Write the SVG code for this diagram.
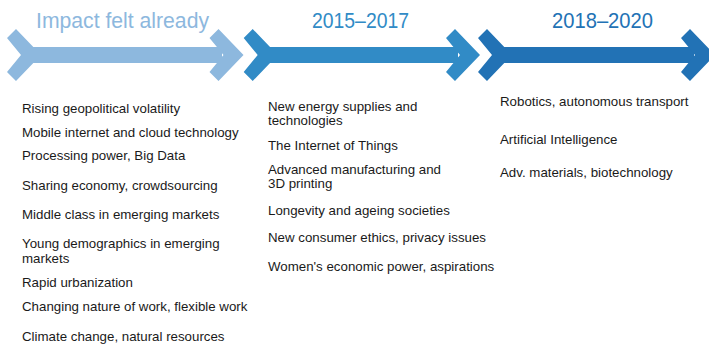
<svg xmlns="http://www.w3.org/2000/svg" width="709" height="347" viewBox="0 0 709 347">
<defs>
<style>
.title{font-family:"Liberation Sans",Arial,sans-serif;font-size:22px}
.item{font-family:"Liberation Sans",Arial,sans-serif;font-size:13.3px;fill:#1a1a1a}
.s1{fill:#8db8de}
.s2{fill:#318bc6}
.s3{fill:#2272b5}
</style>
<path id="chev" d="M0,29 L25,55 L0,81 L-9,72 L5,55 L-9,38 Z"/>
</defs>
<rect width="709" height="347" fill="#ffffff"/>
<g id="stage-impact">
<text class="title s1" x="36" y="28.3" textLength="173" lengthAdjust="spacingAndGlyphs">Impact felt already</text>
<g class="s1">
<use href="#chev" x="16"/>
<rect x="22" y="47" width="200" height="16"/>
<use href="#chev" x="218.5"/>
</g>
<g class="item">
<text x="22" y="113">Rising geopolitical volatility</text>
<text x="22" y="137">Mobile internet and cloud technology</text>
<text x="22" y="160">Processing power, Big Data</text>
<text x="22" y="190">Sharing economy, crowdsourcing</text>
<text x="22" y="219">Middle class in emerging markets</text>
<text x="22" y="248">Young demographics in emerging</text>
<text x="22" y="263">markets</text>
<text x="22" y="287">Rapid urbanization</text>
<text x="22" y="311">Changing nature of work, flexible work</text>
<text x="22" y="341">Climate change, natural resources</text>
</g>
</g>
<g id="stage-2015-2017">
<text class="title s2" x="312" y="28.3" textLength="97" lengthAdjust="spacingAndGlyphs">2015–2017</text>
<g class="s2">
<use href="#chev" x="252.7"/>
<rect x="258" y="47" width="200" height="16"/>
<use href="#chev" x="455"/>
</g>
<g class="item">
<text x="268" y="110.5">New energy supplies and</text>
<text x="268" y="125">technologies</text>
<text x="268" y="150">The Internet of Things</text>
<text x="268" y="173.5">Advanced manufacturing and</text>
<text x="268" y="188">3D printing</text>
<text x="268" y="214.5">Longevity and ageing societies</text>
<text x="268" y="242">New consumer ethics, privacy issues</text>
<text x="268" y="271">Women's economic power, aspirations</text>
</g>
</g>
<g id="stage-2018-2020">
<text class="title s3" x="552" y="28.3" textLength="101" lengthAdjust="spacingAndGlyphs">2018–2020</text>
<g class="s3">
<use href="#chev" x="487"/>
<rect x="492" y="47" width="202" height="16"/>
<use href="#chev" x="690"/>
</g>
<g class="item">
<text x="500" y="106">Robotics, autonomous transport</text>
<text x="500" y="144">Artificial Intelligence</text>
<text x="500" y="176.5">Adv. materials, biotechnology</text>
</g>
</g>
</svg>
